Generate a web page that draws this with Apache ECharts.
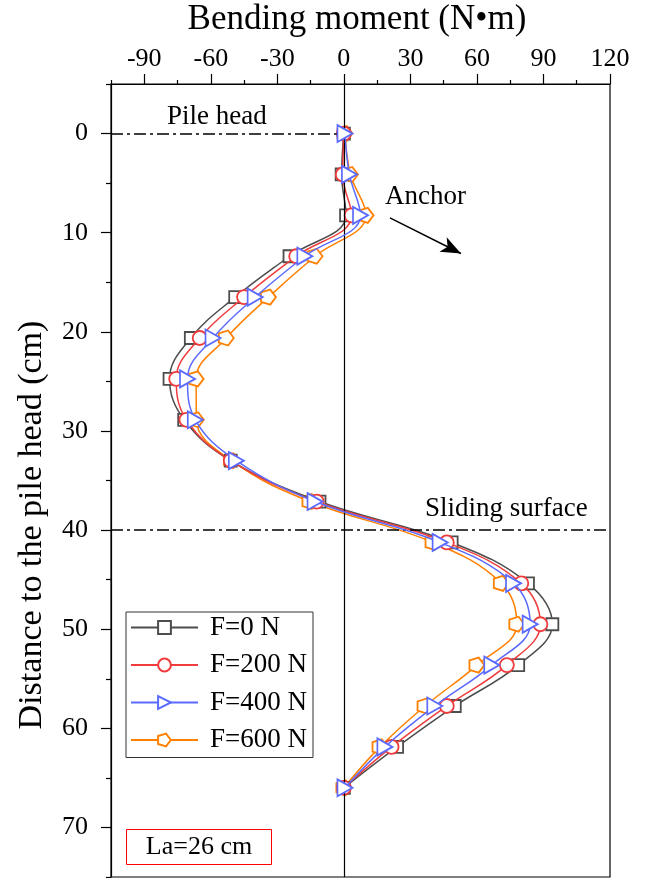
<!DOCTYPE html>
<html>
<head>
<meta charset="utf-8">
<script src="https://cdn.jsdelivr.net/npm/echarts@6/dist/echarts.min.js"></script>
<style>
  html, body { margin: 0; padding: 0; background: #fff; }
  #chart { width: 646px; height: 878px; }
</style>
</head>
<body>
<div id="chart"></div>
<script>
// Measurement depths along the pile (cm below the pile head)
const depth = [0, 4.125, 8.25, 12.375, 16.5, 20.625, 24.75, 28.875, 33, 37.125, 41.25, 45.375, 49.5, 53.625, 57.75, 61.875, 66];

// Bending moment (N·m) at each depth, one list per anchor pull force
const momentF0   = [0, -1, 1, -24.5, -49, -69, -78.6, -72, -51, -11, 48.6, 83, 94, 78.6, 50, 24, 0];
const momentF200 = [0, -0.5, 3.5, -21.5, -45, -65, -75.6, -71, -51, -12.3, 46.4, 80, 88.6, 73.5, 46.4, 21.5, 0];
const momentF400 = [0.5, 2.5, 7.5, -17.6, -40, -59, -70.5, -67, -48.5, -13, 43.4, 76.5, 84, 66.7, 41, 18.5, 0.5];
const momentF600 = [0.5, 3, 10, -13, -34, -53, -66.6, -66.5, -50.6, -15.3, 40.2, 71, 78, 60, 36.6, 16.3, 0];

const seriesNames = ['F=0 N', 'F=200 N', 'F=400 N', 'F=600 N'];

// Axis ticks
const xMajorTicks = [-90, -60, -30, 0, 30, 60, 90, 120];
const xMinorTicks = [-105, -75, -45, -15, 15, 45, 75, 105];
const yMajorTicks = [0, 10, 20, 30, 40, 50, 60, 70];
const yMinorTicks = [-5, 5, 15, 25, 35, 45, 55, 65, 75];

// Reference levels
const pileHeadDepth = 0;
const slidingSurfaceDepth = 40;

const FONT = '"Liberation Serif", "Times New Roman", serif';
const AXIS_COLOR = '#000';

const chart = echarts.init(document.getElementById('chart'), null, { renderer: 'canvas' });

function lineSeries(name, values, color, symbol, size, z) {
  return {
    name: name,
    type: 'line',
    xAxisIndex: 0,
    yAxisIndex: 0,
    data: values.map((v, i) => [v, depth[i]]),
    smooth: 0.4,
    symbol: symbol,
    symbolSize: size,
    showAllSymbol: true,
    z: z,
    color: color,
    lineStyle: { color: color, width: 1.5 },
    itemStyle: { color: '#fff', borderColor: color, borderWidth: 1.8 },
    emphasis: { disabled: true }
  };
}

const trianglePath = 'path://M0,0L17,9L0,18Z';
const pentagonPath = 'path://M20,10L13.09,19.51L1.91,15.88L1.91,4.12L13.09,0.49Z';

const dashDot = [12, 4, 3, 4];

const tickLine = { color: AXIS_COLOR, width: 1.2 };

const option = {
  backgroundColor: '#fff',
  animation: false,
  grid: {
    left: 111, right: 36, top: 84, bottom: 1,
    outerBoundsMode: 'none',
    containLabel: false,
    show: true, borderColor: AXIS_COLOR, borderWidth: 1.2, backgroundColor: 'transparent'
  },
  xAxis: [
    {
      type: 'value', position: 'top', min: -105, max: 120,
      axisLine: { show: true, onZero: false, lineStyle: tickLine },
      axisTick: { show: true, inside: false, length: 10, customValues: xMajorTicks, lineStyle: tickLine },
      axisLabel: { show: true, customValues: xMajorTicks, margin: 12, fontFamily: FONT, fontSize: 26, color: '#000' },
      splitLine: { show: false }
    },
    {
      type: 'value', position: 'top', min: -105, max: 120,
      axisLine: { show: false, onZero: false },
      axisTick: { show: true, inside: false, length: 4, customValues: xMinorTicks, lineStyle: tickLine },
      axisLabel: { show: false },
      splitLine: { show: false }
    }
  ],
  yAxis: [
    {
      type: 'value', position: 'left', inverse: true, min: -5, max: 75,
      axisLine: { show: true, onZero: false, lineStyle: tickLine },
      axisTick: { show: true, inside: false, length: 10, customValues: yMajorTicks, lineStyle: tickLine },
      axisLabel: { show: true, customValues: yMajorTicks, margin: 23, fontFamily: FONT, fontSize: 26, color: '#000' },
      splitLine: { show: false }
    },
    {
      type: 'value', position: 'left', inverse: true, min: -5, max: 75,
      axisLine: { show: false, onZero: false },
      axisTick: { show: true, inside: false, length: 5, customValues: yMinorTicks, lineStyle: tickLine },
      axisLabel: { show: false },
      splitLine: { show: false }
    }
  ],
  legend: {
    data: seriesNames,
    orient: 'vertical',
    left: 126, top: 612,
    itemWidth: 67, itemHeight: 16, itemGap: 10.5,
    padding: [2, 6, 4, 4],
    borderColor: '#333', borderWidth: 1,
    backgroundColor: '#fff',
    selectedMode: false,
    textStyle: { fontFamily: FONT, fontSize: 27, color: '#000', padding: [0, 0, 0, 7] }
  },
  graphic: [
    { type: 'text', x: 357, y: 20, z: 50,
      style: { text: 'Bending moment (N•m)', font: '35px ' + FONT, fill: '#000', textAlign: 'center', textVerticalAlign: 'middle' } },
    { type: 'text', x: 167, y: 117, z: 50,
      style: { text: 'Pile head', font: '27px ' + FONT, fill: '#000', textAlign: 'left', textVerticalAlign: 'middle' } },
    { type: 'text', x: 385, y: 197, z: 50,
      style: { text: 'Anchor', font: '27px ' + FONT, fill: '#000', textAlign: 'left', textVerticalAlign: 'middle' } },
    { type: 'text', x: 425, y: 509, z: 50,
      style: { text: 'Sliding surface', font: '27px ' + FONT, fill: '#000', textAlign: 'left', textVerticalAlign: 'middle' } },
    { type: 'text', x: 32, y: 525, rotation: Math.PI / 2, z: 50,
      style: { text: 'Distance to the pile head (cm)', font: '34px ' + FONT, fill: '#000', textAlign: 'center', textVerticalAlign: 'middle' } },
    { type: 'group', left: 126, top: 829, z: 50,
      children: [
        { type: 'rect', shape: { x: 0, y: 0, width: 145, height: 35 }, style: { fill: '#fff', stroke: '#ff0000', lineWidth: 1 } },
        { type: 'text', x: 72.5, y: 17.5, style: { text: 'La=26 cm', font: '26px ' + FONT, fill: '#000', textAlign: 'center', textVerticalAlign: 'middle' } }
      ] }
  ],
  series: [
    lineSeries(seriesNames[0], momentF0, '#4d4d4d', 'rect', 12, 3),
    lineSeries(seriesNames[1], momentF200, '#f03c3c', 'circle', 14, 4),
    lineSeries(seriesNames[2], momentF400, '#5b6bff', trianglePath, [15, 17], 5),
    lineSeries(seriesNames[3], momentF600, '#ff8000', pentagonPath, 15, 2),
    {
      // reference lines: zero moment, pile head, sliding surface, anchor arrow
      name: 'reference',
      type: 'line',
      data: [],
      z: 1,
      silent: true,
      markLine: {
        silent: true,
        animation: false,
        symbol: ['none', 'none'],
        label: { show: false },
        emphasis: { disabled: true },
        data: [
          [{ coord: [0, -5], lineStyle: { type: 'solid', color: '#000', width: 1.2 } }, { coord: [0, 75] }],
          [{ coord: [-105, pileHeadDepth], lineStyle: { type: dashDot, color: '#000', width: 1.5 } }, { coord: [0, pileHeadDepth] }],
          [{ coord: [-105, slidingSurfaceDepth], lineStyle: { type: dashDot, color: '#000', width: 1.5 } }, { coord: [120, slidingSurfaceDepth] }],
          [{ coord: [20.8, 8.5], symbol: 'none', lineStyle: { type: 'solid', color: '#000', width: 1.5 } },
           { coord: [52.8, 12.1], symbol: 'arrow', symbolSize: [12, 20] }]
        ]
      }
    }
  ]
};

chart.setOption(option);
</script>
</body>
</html>
